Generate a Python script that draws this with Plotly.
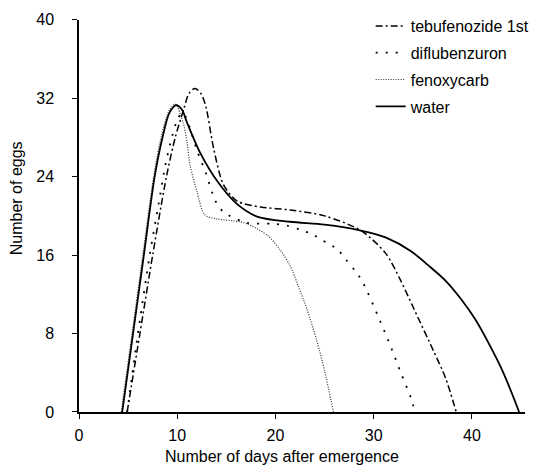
import plotly.graph_objects as go

# Data
tebu_x = [4.9, 6.2, 7.5, 8.9, 9.8, 10.7, 11.2, 11.8, 12.4, 12.9, 13.7, 14.7, 16.1, 18.5, 21.5, 25.0, 28.7, 31.2, 32.7, 34.1, 36.1, 37.3, 38.4]
tebu_y = [0, 8, 16, 24, 28, 31, 32.5, 33.0, 32.5, 31.2, 26.9, 23.2, 21.5, 20.9, 20.6, 20.0, 18.5, 16.2, 13.5, 10.5, 6.2, 3.5, 0]

difl_x = [4.9, 6.0, 7.2, 8.1, 8.8, 9.3, 10.1, 10.6, 11.6, 12.0, 12.9, 13.9, 14.7, 17.1, 19.8, 21.2, 22.5, 23.8, 24.8, 26.3, 27.2, 28.1, 28.8, 30.6, 31.8, 32.8, 33.8, 34.2]
difl_y = [0, 8, 16, 21.2, 25.2, 27.4, 30.0, 30.5, 28.0, 26.7, 24.4, 21.5, 20.4, 19.3, 19.2, 19.0, 18.6, 18.1, 17.5, 16.6, 15.5, 14.4, 13.4, 9.4, 6.5, 3.9, 1.4, 0]

fenox_x = [4.3, 5.4, 6.5, 7.6, 8.4, 9.2, 9.8, 10.6, 11.0, 11.3, 12.0, 12.8, 14.0, 16.4, 17.1, 19.2, 20.5, 21.5, 22.3, 23.2, 24.2, 25.0, 25.9]
fenox_y = [0, 8, 16, 24, 28.2, 30.8, 31.4, 29.5, 27.5, 25.2, 22.5, 20.1, 19.7, 19.4, 19.2, 18.0, 16.5, 14.9, 12.9, 10.5, 7.3, 4.2, 0]

water_x = [4.4, 5.5, 6.6, 7.7, 8.5, 9.2, 9.9, 10.5, 11.0, 12.3, 14.1, 16.1, 18.2, 21.5, 25.0, 28.7, 31.2, 33.8, 35.5, 37.3, 38.9, 40.3, 41.6, 43.2, 44.8]
water_y = [0, 8, 16, 24, 28, 30.5, 31.3, 30.8, 29.5, 26.5, 23.5, 21.2, 19.9, 19.4, 19.1, 18.5, 17.8, 16.4, 15.0, 13.4, 11.5, 9.5, 7.2, 4.0, 0]

x_ticks = [0, 10, 20, 30, 40]
y_ticks = [0, 8, 16, 24, 32, 40]

FONT = "Liberation Sans, Arial, sans-serif"

PLOT_H = 468 - 56  # height of the area between top margin (0) and bottom margin

fig = go.Figure()
fig.add_trace(go.Scatter(x=tebu_x, y=tebu_y, mode="lines", name="tebufenozide 1st",
                         legendgroup="a",
                         line=dict(color="black", width=1.5, dash="7px,3px,2px,3px", shape="spline", smoothing=0.8)))
fig.add_trace(go.Scatter(x=difl_x, y=difl_y, mode="lines", name="diflubenzuron",
                         legendgroup="b",
                         line=dict(color="black", width=1.8, dash="2px,8px", shape="spline", smoothing=0.8)))
fig.add_trace(go.Scatter(x=fenox_x, y=fenox_y, mode="lines", name="fenoxycarb",
                         legendgroup="c",
                         line=dict(color="#333", width=1.2, dash="1px,1.5px", shape="spline", smoothing=0.8)))
fig.add_trace(go.Scatter(x=water_x, y=water_y, mode="lines", name="water",
                         legendgroup="d",
                         line=dict(color="black", width=1.8, shape="spline", smoothing=0.8)))

fig.update_layout(
    width=537, height=468,
    margin=dict(l=79, r=12, t=0, b=56),
    paper_bgcolor="white", plot_bgcolor="white",
    font=dict(family=FONT, size=16, color="black"),
    showlegend=True,
    legend=dict(x=0.654, y=1 - 1 / PLOT_H, xanchor="left", yanchor="top",
                bgcolor="rgba(0,0,0,0)", tracegroupgap=3,
                font=dict(size=16)),
    xaxis=dict(range=[0, 45.4], tickvals=x_ticks, ticks="outside", ticklen=5,
               tickcolor="black", showline=True, linecolor="black", linewidth=1.5,
               showgrid=False, zeroline=False, ticklabelstandoff=3),
    yaxis=dict(range=[0, 40], tickvals=y_ticks, ticks="outside", ticklen=5,
               tickcolor="black", showline=True, linecolor="black", linewidth=1.5,
               showgrid=False, zeroline=False, ticklabelstandoff=15,
               domain=[0, 1 - 12 / PLOT_H]),
    annotations=[
        dict(text="Number of days after emergence", xref="paper", yref="paper",
             x=(282 - 79) / 446, y=-45 / PLOT_H, xanchor="center", yanchor="middle",
             showarrow=False, font=dict(size=16)),
        dict(text="Number of eggs", xref="paper", yref="paper",
             x=-63 / 446, y=(412 - 194) / PLOT_H, xanchor="center", yanchor="middle",
             textangle=-90, showarrow=False, font=dict(size=16)),
    ],
)

fig.write_html("out.html", config={"displayModeBar": False},
               post_script="document.body.style.margin='0';")
